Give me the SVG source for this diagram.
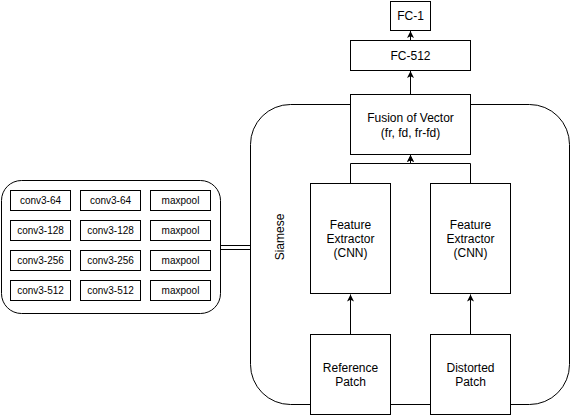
<svg xmlns="http://www.w3.org/2000/svg" width="571" height="415" viewBox="0 0 571 415">
<style>
.b{fill:#fff;stroke:#000;stroke-width:1}
.t{font-family:"Liberation Sans",Arial,sans-serif;font-size:12px;fill:#000;text-anchor:middle}
.s{font-family:"Liberation Sans",Arial,sans-serif;font-size:10px;fill:#000;text-anchor:middle}
.c{fill:none;stroke:#000;stroke-width:1}
</style>
<defs>
<marker id="a" markerWidth="8" markerHeight="8" refX="7" refY="4" orient="auto" markerUnits="userSpaceOnUse">
<path d="M0,0.5 L7,4 L0,7.5 L1.8,4 Z" fill="#000"/>
</marker>
</defs>
<rect width="571" height="415" fill="#fff"/>
<g id="siamese">
<rect class="b" x="250.5" y="104.5" width="319" height="300" rx="40" ry="40"/>
<text class="t" transform="translate(284,237) rotate(-90)">Siamese</text>
</g>
<g id="vgg">
<rect class="b" x="1.5" y="180.5" width="219" height="133" rx="20" ry="20"/>
<g id="r1">
<rect class="b" x="10.5" y="190.5" width="60" height="20"/><text class="s" x="40.5" y="204">conv3-64</text>
<rect class="b" x="80.5" y="190.5" width="60" height="20"/><text class="s" x="110.5" y="204">conv3-64</text>
<rect class="b" x="150.5" y="190.5" width="60" height="20"/><text class="s" x="180.5" y="204">maxpool</text>
</g>
<g id="r2">
<rect class="b" x="10.5" y="220.5" width="60" height="20"/><text class="s" x="40.5" y="234">conv3-128</text>
<rect class="b" x="80.5" y="220.5" width="60" height="20"/><text class="s" x="110.5" y="234">conv3-128</text>
<rect class="b" x="150.5" y="220.5" width="60" height="20"/><text class="s" x="180.5" y="234">maxpool</text>
</g>
<g id="r3">
<rect class="b" x="10.5" y="250.5" width="60" height="20"/><text class="s" x="40.5" y="264">conv3-256</text>
<rect class="b" x="80.5" y="250.5" width="60" height="20"/><text class="s" x="110.5" y="264">conv3-256</text>
<rect class="b" x="150.5" y="250.5" width="60" height="20"/><text class="s" x="180.5" y="264">maxpool</text>
</g>
<g id="r4">
<rect class="b" x="10.5" y="280.5" width="60" height="20"/><text class="s" x="40.5" y="294">conv3-512</text>
<rect class="b" x="80.5" y="280.5" width="60" height="20"/><text class="s" x="110.5" y="294">conv3-512</text>
<rect class="b" x="150.5" y="280.5" width="60" height="20"/><text class="s" x="180.5" y="294">maxpool</text>
</g>
</g>
<g id="fc1">
<rect class="b" x="390.5" y="1.5" width="40" height="29"/>
<text class="t" x="410.5" y="20">FC-1</text>
</g>
<g id="fc512">
<rect class="b" x="350.5" y="40.5" width="120" height="30"/>
<text class="t" x="410.5" y="60">FC-512</text>
</g>
<g id="fusion">
<rect class="b" x="350.5" y="94.5" width="120" height="60"/>
<text class="t" x="410.5" y="121.5">Fusion of Vector</text>
<text class="t" x="410.5" y="136.5">(fr, fd, fr-fd)</text>
</g>
<g id="fe1">
<rect class="b" x="310.5" y="183.5" width="80" height="110"/>
<text class="t" x="350.5" y="229">Feature</text>
<text class="t" x="350.5" y="243">Extractor</text>
<text class="t" x="350.5" y="257">(CNN)</text>
</g>
<g id="fe2">
<rect class="b" x="430.5" y="183.5" width="80" height="110"/>
<text class="t" x="470.5" y="229">Feature</text>
<text class="t" x="470.5" y="243">Extractor</text>
<text class="t" x="470.5" y="257">(CNN)</text>
</g>
<g id="ref">
<rect class="b" x="310.5" y="334.5" width="80" height="80"/>
<text class="t" x="350.5" y="372">Reference</text>
<text class="t" x="350.5" y="386">Patch</text>
</g>
<g id="dist">
<rect class="b" x="430.5" y="334.5" width="80" height="80"/>
<text class="t" x="470.5" y="372">Distorted</text>
<text class="t" x="470.5" y="386">Patch</text>
</g>
<g id="connectors">
<path class="c" d="M350.5,334.5 V294.5" marker-end="url(#a)"/>
<path class="c" d="M470.5,334.5 V294.5" marker-end="url(#a)"/>
<path class="c" d="M350.5,183.5 V163.5 H410.5 V155" marker-end="url(#a)"/>
<path class="c" d="M470.5,183.5 V163.5 H410.5 V155" marker-end="url(#a)"/>
<path class="c" d="M410.5,94.5 V71" marker-end="url(#a)"/>
<path class="c" d="M410.5,40.5 V31" marker-end="url(#a)"/>
<path class="c" d="M221,245.5 H250"/>
<path class="c" d="M221,249.5 H250"/>
</g>
</svg>
